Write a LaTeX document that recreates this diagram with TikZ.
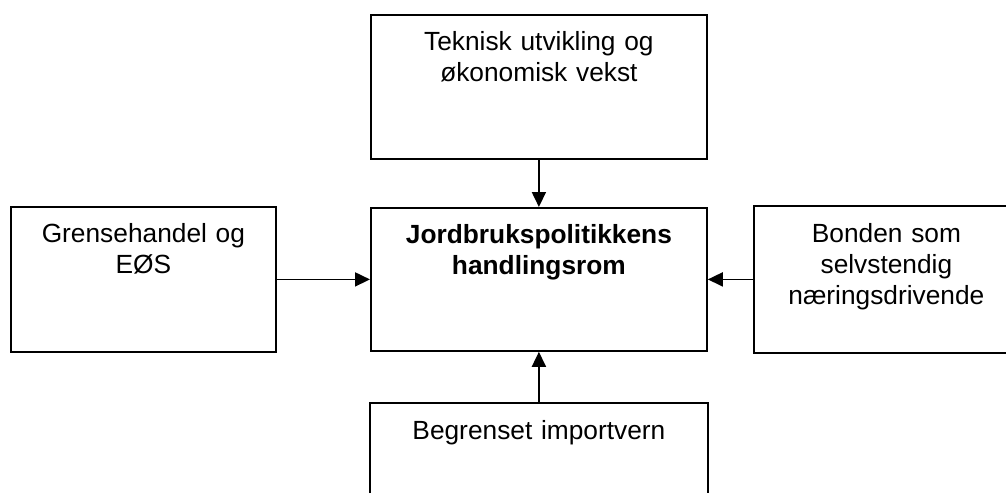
\documentclass[tikz,border=0pt]{standalone}
\usepackage{fontspec}
\setmainfont{Liberation Sans}
\usetikzlibrary{arrows.meta}

\tikzset{
	box/.style={draw, line width=1.8pt, inner sep=0pt, anchor=north west, align=center,
		text height=36pt, font=\fontsize{26.3}{31}\selectfont},
	arrow/.style={-{Triangle[length=15pt,width=14pt]}, line width=1.8pt}
}

\begin{document}
\begin{tikzpicture}[x=1pt,y=-1pt]
\useasboundingbox (0,0) rectangle (1006,493);
\coordinate (rightedge) at (1006,0);
\coordinate (bottomedge) at (0,493);

\node (teknisk) at (370,14) [box,text width=336pt,text depth=108pt] {Teknisk utvikling og\\økonomisk vekst};
\node (jordbruk) at (370,207) [box,text width=336pt,text depth=107pt] {\bfseries Jordbrukspolitikkens\\\bfseries handlingsrom};
\node (grense) at (10,206) [box,text width=265pt,text depth=109pt] {Grensehandel og\\EØS};
\node (bonden) at (754,206) [box,draw=none,text width=263pt,text depth=109pt] {Bonden som\\selvstendig\\næringsdrivende};
\node (import) at (370,403) [box,draw=none,text width=336pt,text depth=108pt] {Begrenset importvern};

% boxes cut by the page edge
\draw [line width=1.8pt] (bonden.north west -| rightedge) -- (bonden.north west) -- (bonden.south west) -- (bonden.south west -| rightedge);
\draw [line width=1.8pt] (import.north west |- bottomedge) -- (import.north west) -- (import.north east) -- (import.north east |- bottomedge);

\draw [arrow] (teknisk) -- (jordbruk);
\draw [arrow] (grense) -- (jordbruk);
\draw [arrow] (bonden) -- (jordbruk);
\draw [arrow] (import) -- (jordbruk);
\end{tikzpicture}
\end{document}
